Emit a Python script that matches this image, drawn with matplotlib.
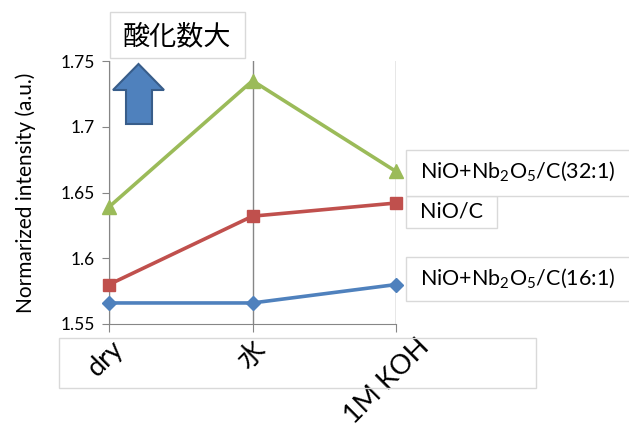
import matplotlib

matplotlib.use("Agg")

import matplotlib.pyplot as plt
from matplotlib.patches import Polygon, Rectangle
from matplotlib.transforms import ScaledTranslation

plt.rcParams["font.family"] = ["Lato", "Noto Sans CJK JP", "DejaVu Sans"]
plt.rcParams["mathtext.fontset"] = "custom"
plt.rcParams["mathtext.rm"] = "Lato"

conditions = ["dry", "水", "1M KOH"]
ratio_32 = [1.639, 1.735, 1.666]
nio_c = [1.580, 1.632, 1.642]
ratio_16 = [1.566, 1.566, 1.580]

series_labels = [
    r"NiO+Nb$_\mathregular{2}$O$_\mathregular{5}$/C(32:1)",
    "NiO/C",
    r"NiO+Nb$_\mathregular{2}$O$_\mathregular{5}$/C(16:1)",
]
y_ticks = [1.55, 1.6, 1.65, 1.7, 1.75]

W, H = 629, 424
fig = plt.figure(figsize=(W / 100, H / 100), dpi=100)


def fx(px):
    return px / W


def fy(py):
    return 1 - py / H


ax = fig.add_axes([fx(109), fy(324), fx(396) - fx(109), fy(61) - fy(324)])

x = list(range(len(conditions)))
ax.plot(x, ratio_32, color="#9BBB59", lw=2.6, marker="^", ms=10, clip_on=False, zorder=3)
ax.plot(x, nio_c, color="#C0504D", lw=2.6, marker="s", ms=9, clip_on=False, zorder=3)
ax.plot(x, ratio_16, color="#4F81BD", lw=2.6, marker="D", ms=7, clip_on=False, zorder=3)

ax.set_xlim(0, 2)
ax.set_ylim(1.55, 1.75)
ax.set_yticks(y_ticks)
ax.set_yticklabels([f"{v:g}" for v in y_ticks], fontsize=12.5)
ax.set_xticks(x)
ax.set_xticklabels(conditions, fontsize=19.5, rotation=45, ha="right", va="top",
                   rotation_mode="anchor")
ax.tick_params(axis="x", length=6, color="#868686", pad=0)
ax.tick_params(axis="y", length=5, color="#868686", pad=5)

# nudge the slanted category labels (pixel shifts)
for lab, (dx, dy) in zip(ax.get_xticklabels(), [(2, -3), (0, -5), (20, -2)]):
    lab.set_transform(lab.get_transform()
                      + ScaledTranslation(dx / 100, dy / 100, fig.dpi_scale_trans))

ax.grid(axis="x", color="#868686", lw=1)
ax.set_axisbelow(True)
for side in ["top", "right"]:
    ax.spines[side].set_visible(False)
for side in ["left", "bottom"]:
    ax.spines[side].set_color("#868686")
ax.set_ylabel("Normarized intensity (a.u.)", fontsize=15, labelpad=18)


def text_box(x0, y0, x1, y1, z):
    fig.add_artist(Rectangle((fx(x0), fy(y1)), fx(x1) - fx(x0), fy(y0) - fy(y1),
                             transform=fig.transFigure, facecolor="white",
                             edgecolor="#D9D9D9", lw=1, zorder=z))


# category label frame
fig.add_artist(Rectangle((fx(59), fy(388)), fx(536) - fx(59), fy(338) - fy(388),
                         transform=fig.transFigure, fill=False,
                         edgecolor="#D9D9D9", lw=1, zorder=5))

# series labels beside the last point
text_box(406, 196, 497, 228, 5)
fig.text(fx(420), fy(212), series_labels[1], fontsize=15.5, va="center", zorder=6)
text_box(406, 150, 640, 196, 7)
fig.text(fx(420), fy(172), series_labels[0], fontsize=15.5, va="center", zorder=8)
text_box(406, 257, 640, 301, 5)
fig.text(fx(420), fy(279), series_labels[2], fontsize=15.5, va="center", zorder=6)

# oxidation-state note with arrow
text_box(110, 12, 245, 58, 5)
fig.text(fx(177), fy(36), "酸化数大", fontsize=19.5, ha="center", va="center", zorder=6)
arrow_pts = [(113, 90), (138.5, 64), (164, 90), (152, 90), (152, 124), (126, 124), (126, 90)]
fig.add_artist(Polygon([(fx(a), fy(b)) for a, b in arrow_pts], closed=True,
                       transform=fig.transFigure, facecolor="#4F81BD",
                       edgecolor="#385D8A", lw=1.5, zorder=6))

fig.savefig("out.png", dpi=100)
